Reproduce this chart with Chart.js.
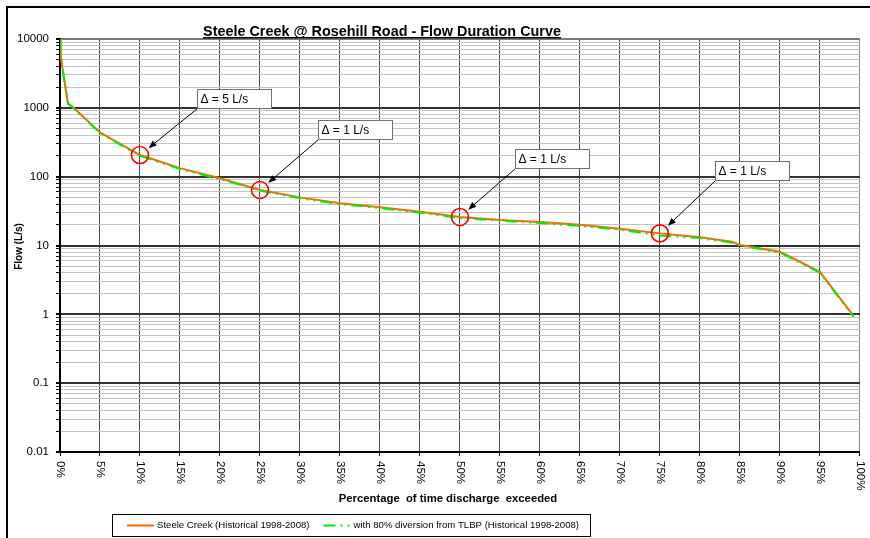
<!DOCTYPE html>
<html>
<head>
<meta charset="utf-8">
<script src="https://cdn.jsdelivr.net/npm/chart.js@4.4.1/dist/chart.umd.min.js"></script>
<style>
  html, body { margin: 0; padding: 0; background: #ffffff; }
  #wrap { width: 870px; height: 538px; position: relative; }
</style>
</head>
<body>
<div id="wrap"><canvas id="fdc" width="870" height="538"></canvas></div>
<script>
// ---- Text ----
const chartTitle = 'Steele Creek @ Rosehill Road - Flow Duration Curve';
const xAxisTitle = 'Percentage  of time discharge  exceeded';
const yAxisTitle = 'Flow (L/s)';
const seriesNames = ['Steele Creek (Historical 1998-2008)', 'with 80% diversion from TLBP (Historical 1998-2008)'];

// ---- Flow duration data: % of time exceeded vs flow (L/s) ----
const exceedance    = [0, 0.1, 0.4, 1, 1.5, 5, 10, 15, 20, 25, 30, 35, 40, 45, 50, 55, 60, 65, 70, 75, 80, 84, 85, 90, 95, 99.2];
const flowSteele    = [10000, 5600, 3200, 1150, 1050, 440, 206, 133, 95, 64, 50, 41, 36, 31, 26, 23.5, 22, 20, 17.5, 15, 13.2, 11.3, 10.2, 8.1, 4.15, 0.95];
const flowDiversion = [10000, 5600, 3200, 1150, 1040, 430, 201, 129, 92, 63, 48.5, 40, 35, 30, 25, 23, 21.2, 19.3, 17, 14, 12.8, 11, 10, 7.9, 4.05, 0.92];

// ---- Axis ticks ----
const xTickValues = [0, 5, 10, 15, 20, 25, 30, 35, 40, 45, 50, 55, 60, 65, 70, 75, 80, 85, 90, 95, 100];
const xTickLabels = ['0%', '5%', '10%', '15%', '20%', '25%', '30%', '35%', '40%', '45%', '50%', '55%', '60%', '65%', '70%', '75%', '80%', '85%', '90%', '95%', '100%'];
const yTickValues = [0.01, 0.1, 1, 10, 100, 1000, 10000];
const yTickLabels = ['0.01', '0.1', '1', '10', '100', '1000', '10000'];

// ---- Callouts: marked exceedance, label, and where the label box sits (bottom-left corner) ----
const markPct      = [10, 25, 50, 75];
const markLabels   = ['\u0394 = 5 L/s', '\u0394 = 1 L/s', '\u0394 = 1 L/s', '\u0394 = 1 L/s'];
const calloutPct   = [17.1, 32.3, 56.9, 81.9];
const calloutFlow  = [1000, 350, 133, 89];

const FONT = '"Liberation Sans", Arial, Helvetica, sans-serif';
const ORANGE = '#ff6600';
const GREEN = '#00ee00';
const GREEN_DASH = [12, 5, 2, 5, 2, 5];

function decadeIndex(v) {
  for (let i = 0; i < yTickValues.length; i++) {
    if (Math.abs(Math.log10(v) - Math.log10(yTickValues[i])) < 1e-6) return i;
  }
  return -1;
}

const toPoints = (ys) => exceedance.map((p, i) => ({ x: p, y: ys[i] }));
const markPoints = markPct.map(p => ({ x: p, y: flowSteele[exceedance.indexOf(p)] }));

function drawArrow(ctx, x0, y0, x1, y1) {
  const ang = Math.atan2(y1 - y0, x1 - x0);
  const len = 8, hw = 3.2;
  ctx.beginPath();
  ctx.moveTo(x0, y0);
  ctx.lineTo(x1 - Math.cos(ang) * len * 0.8, y1 - Math.sin(ang) * len * 0.8);
  ctx.strokeStyle = '#000';
  ctx.lineWidth = 1;
  ctx.stroke();
  ctx.beginPath();
  ctx.moveTo(x1, y1);
  ctx.lineTo(x1 - Math.cos(ang) * len + Math.sin(ang) * hw, y1 - Math.sin(ang) * len - Math.cos(ang) * hw);
  ctx.lineTo(x1 - Math.cos(ang) * len - Math.sin(ang) * hw, y1 - Math.sin(ang) * len + Math.cos(ang) * hw);
  ctx.closePath();
  ctx.fillStyle = '#000';
  ctx.fill();
}

const decorations = {
  id: 'decorations',
  afterDraw(chart) {
    const ctx = chart.ctx;
    const xs = chart.scales.x, ys = chart.scales.y;
    const area = chart.chartArea;
    ctx.save();

    // outer frame
    ctx.strokeStyle = '#000';
    ctx.lineWidth = 2;
    ctx.beginPath();
    ctx.moveTo(7, 540);
    ctx.lineTo(7, 7);
    ctx.lineTo(872, 7);
    ctx.stroke();

    // title, underlined
    ctx.font = 'bold 14.4px ' + FONT;
    ctx.fillStyle = '#000';
    ctx.textAlign = 'center';
    ctx.textBaseline = 'alphabetic';
    const tx = 382, tyBase = 36;
    ctx.fillText(chartTitle, tx, tyBase);
    const tw = ctx.measureText(chartTitle).width;
    ctx.fillRect(tx - tw / 2, tyBase + 1, tw, 1.4);

    // axis titles
    ctx.font = 'bold 11.3px ' + FONT;
    ctx.textBaseline = 'middle';
    ctx.fillText(xAxisTitle, 448, 499);
    ctx.font = 'bold 10px ' + FONT;
    ctx.save();
    ctx.translate(19, (area.top + area.bottom) / 2 + 1);
    ctx.rotate(-Math.PI / 2);
    ctx.fillText(yAxisTitle, 0, 0);
    ctx.restore();

    // x tick labels, turned clockwise
    ctx.font = '11.5px ' + FONT;
    ctx.textAlign = 'left';
    ctx.textBaseline = 'middle';
    xTickValues.forEach((v, i) => {
      const px = xs.getPixelForValue(v);
      ctx.save();
      ctx.translate(px, area.bottom + 9);
      ctx.rotate(Math.PI / 2);
      ctx.fillText(xTickLabels[i], 0, 0);
      ctx.restore();
    });

    // callout boxes and arrows
    ctx.font = '12px ' + FONT;
    markPoints.forEach((pt, i) => {
      const cx = xs.getPixelForValue(pt.x), cy = ys.getPixelForValue(pt.y);
      const bx = Math.round(xs.getPixelForValue(calloutPct[i])) + 0.5;
      const by = Math.round(ys.getPixelForValue(calloutFlow[i])) + 0.5;
      const dx = bx - cx, dy = by - cy, d = Math.hypot(dx, dy);
      drawArrow(ctx, bx, by, cx + dx / d * 11, cy + dy / d * 11);
      const bw = 74, bh = 19;
      ctx.fillStyle = '#fff';
      ctx.fillRect(bx, by - bh, bw, bh);
      ctx.strokeStyle = '#707070';
      ctx.lineWidth = 1;
      ctx.strokeRect(bx, by - bh, bw, bh);
      ctx.fillStyle = '#000';
      ctx.textAlign = 'left';
      ctx.textBaseline = 'middle';
      ctx.fillText(markLabels[i], bx + 3, by - bh / 2 + 0.5);
    });

    // legend
    const lx0 = 112.5, ly0 = 514.5, lx1 = 590.5, ly1 = 536.5;
    ctx.fillStyle = '#fff';
    ctx.fillRect(lx0, ly0, lx1 - lx0, ly1 - ly0);
    ctx.strokeStyle = '#000';
    ctx.lineWidth = 1;
    ctx.strokeRect(lx0, ly0, lx1 - lx0, ly1 - ly0);
    ctx.font = '9.6px ' + FONT;
    ctx.textBaseline = 'middle';
    ctx.textAlign = 'left';
    const ly = (ly0 + ly1) / 2;
    let ix = 127;
    const styles = [{ c: ORANGE, dash: [] }, { c: GREEN, dash: GREEN_DASH }];
    seriesNames.forEach((name, i) => {
      ctx.beginPath();
      ctx.setLineDash(styles[i].dash);
      ctx.strokeStyle = styles[i].c;
      ctx.lineWidth = 2;
      ctx.moveTo(ix, ly);
      ctx.lineTo(ix + 27, ly);
      ctx.stroke();
      ctx.setLineDash([]);
      ctx.fillStyle = '#000';
      ctx.fillText(name, ix + 30, ly);
      ix += 30 + ctx.measureText(name).width + 14;
    });

    ctx.restore();
  }
};

new Chart(document.getElementById('fdc'), {
  type: 'line',
  data: {
    datasets: [
      {
        label: seriesNames[0],
        data: toPoints(flowSteele),
        borderColor: ORANGE,
        borderWidth: 2,
        pointRadius: 0,
        tension: 0,
        order: 2
      },
      {
        label: seriesNames[1],
        data: toPoints(flowDiversion),
        borderColor: GREEN,
        borderWidth: 2,
        borderDash: GREEN_DASH,
        pointRadius: 0,
        tension: 0,
        order: 1
      },
      {
        label: 'marks',
        data: markPoints,
        showLine: false,
        pointStyle: 'circle',
        pointRadius: 8.5,
        pointBorderWidth: 1.6,
        pointBorderColor: '#ff0000',
        pointBackgroundColor: 'rgba(0,0,0,0)',
        order: 0
      }
    ]
  },
  options: {
    responsive: false,
    animation: false,
    events: [],
    layout: { padding: { left: 0, top: 39, right: 9, bottom: 0 } },
    plugins: {
      legend: { display: false },
      tooltip: { enabled: false },
      title: { display: false }
    },
    scales: {
      x: {
        type: 'linear',
        min: 0,
        max: 100,
        afterBuildTicks: (s) => { s.ticks = xTickValues.map(v => ({ value: v })); },
        afterFit: (s) => { s.height = 86; },
        ticks: { display: false },
        grid: {
          color: (c) => (c.tick && c.tick.value === 100) ? '#8a8a8a' : '#4a4a4a',
          lineWidth: 1,
          drawTicks: true,
          tickLength: 4,
          tickColor: '#000'
        },
        border: { color: '#000', width: 2 }
      },
      y: {
        type: 'logarithmic',
        min: 0.01,
        max: 10000,
        afterBuildTicks: (s) => {
          const t = [];
          for (let i = 0; i < yTickValues.length - 1; i++) {
            for (let m = 1; m <= 9; m++) t.push({ value: +(yTickValues[i] * m).toPrecision(6) });
          }
          t.push({ value: yTickValues[yTickValues.length - 1] });
          s.ticks = t;
        },
        afterFit: (s) => { s.width = 60; },
        ticks: {
          autoSkip: false,
          padding: 7,
          color: '#000',
          font: { family: FONT, size: 11.5 },
          callback: (v) => { const i = decadeIndex(v); return i >= 0 ? yTickLabels[i] : ''; }
        },
        grid: {
          color: (c) => {
            if (!c.tick) return '#c4c4c4';
            if (c.tick.value === 10000) return '#7a7a7a';
            return decadeIndex(c.tick.value) >= 0 ? '#333' : '#c4c4c4';
          },
          lineWidth: (c) => (c.tick && decadeIndex(c.tick.value) >= 0) ? 2 : 1,
          tickLength: 4,
          tickColor: '#000'
        },
        border: { color: '#000', width: 2 }
      }
    }
  },
  plugins: [decorations]
});
</script>
</body>
</html>
